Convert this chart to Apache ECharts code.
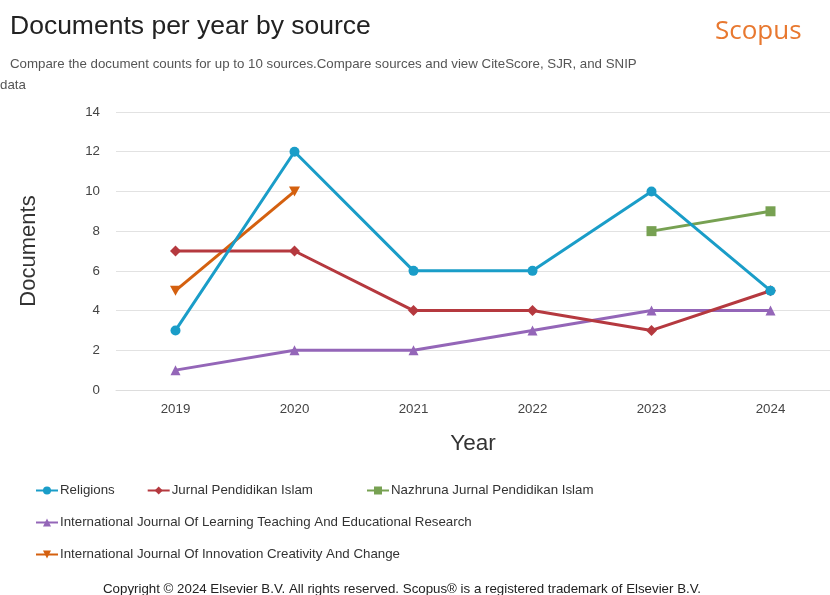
<!DOCTYPE html>
<html><head><meta charset="utf-8">
<script src="https://cdn.jsdelivr.net/npm/echarts@6/dist/echarts.min.js"></script>
<style>html,body{margin:0;padding:0;background:#fff}#c{width:830px;height:595px}</style>
</head><body><div id="c"></div>
<script>
const years = ['2019','2020','2021','2022','2023','2024'];
const seriesNames = ['Religions','Jurnal Pendidikan Islam','Nazhruna Jurnal Pendidikan Islam','International Journal Of Learning Teaching And Educational Research','International Journal Of Innovation Creativity And Change'];
const religions = [3, 12, 6, 6, 10, 5];
const jurnalPendidikanIslam = [7, 7, 4, 4, 3, 5];
const nazhruna = [null, null, null, null, 8, 9];
const ijlter = [1, 2, 2, 3, 4, 4];
const ijicc = [5, 10, null, null, null, null];
const yTicks = {min: 0, max: 14, interval: 2};

const colors = ['#1a9dc8', '#b5393f', '#77a152', '#9466b8', '#d4600f'];
const symbols = ['circle', 'diamond', 'rect', 'triangle', 'path://M0,0 L10,0 L5,10 Z'];
const data = [religions, jurnalPendidikanIslam, nazhruna, ijlter, ijicc];

const chart = echarts.init(document.getElementById('c'));
const font = 'Liberation Sans, Arial, sans-serif';
const fs = 13.3;
const legendBase = {
  orient: 'horizontal', itemWidth: 22, itemHeight: 10, itemGap: 40,
  textStyle: {fontSize: fs, color: '#333', fontFamily: font, padding: [0,0,0,-3]}
};
chart.setOption({
  animation: false,
  color: colors,
  title: [
    {text: 'Documents per year by source', left: 5, top: 8, textStyle: {fontSize: 26.5, fontWeight: 'normal', color: '#222', fontFamily: font}},
    {text: 'Scopus', left: 710, top: 14, textStyle: {fontSize: 26, fontWeight: 'normal', color: '#e8782f', fontFamily: 'Open Sans, sans-serif'}},
    {text: 'Compare the document counts for up to 10 sources.Compare sources and view CiteScore, SJR, and SNIP', left: 5, top: 53, textStyle: {fontSize: fs, fontWeight: 'normal', color: '#555', fontFamily: font}},
    {text: 'data', left: -5, top: 74, textStyle: {fontSize: fs, fontWeight: 'normal', color: '#555', fontFamily: font}},
    {text: 'Copyright © 2024 Elsevier B.V. All rights reserved. Scopus® is a registered trademark of Elsevier B.V.', left: 98, top: 578, textStyle: {fontSize: fs, fontWeight: 'normal', color: '#222', fontFamily: font}}
  ],
  legend: [
    Object.assign({}, legendBase, {data: [seriesNames[0], seriesNames[1]], left: 30, top: 479, itemGap: 32}),
    Object.assign({}, legendBase, {data: [seriesNames[2]], left: 361, top: 479}),
    Object.assign({}, legendBase, {data: [seriesNames[3]], left: 30, top: 511}),
    Object.assign({}, legendBase, {data: [seriesNames[4]], left: 30, top: 543})
  ],
  grid: {left: 116, right: 0, top: 112, bottom: 205, containLabel: false},
  xAxis: {
    type: 'category', data: years, boundaryGap: true,
    name: 'Year', nameLocation: 'middle', nameGap: 42,
    nameTextStyle: {fontSize: 22.5, color: '#333', fontFamily: font},
    axisLine: {show: true, lineStyle: {color: '#ddd'}}, axisTick: {show: false},
    axisLabel: {fontSize: fs, color: '#444', margin: 13, fontFamily: font},
    splitLine: {show: false}
  },
  yAxis: {
    type: 'value', min: yTicks.min, max: yTicks.max, interval: yTicks.interval,
    name: 'Documents', nameLocation: 'middle', nameGap: 76, nameRotate: 90,
    nameTextStyle: {fontSize: 22, color: '#333', fontFamily: font},
    axisLine: {show: false}, axisTick: {show: false},
    axisLabel: {fontSize: fs, color: '#444', margin: 16, fontFamily: font},
    splitLine: {lineStyle: {color: '#e2e2e2'}}
  },
  series: seriesNames.map((n, i) => ({
    name: n, type: 'line', data: data[i], symbol: symbols[i],
    symbolSize: i === 4 ? [11, 10] : (i === 1 ? 11 : 10),
    showAllSymbol: true, connectNulls: false,
    lineStyle: {width: 3, color: colors[i]}, itemStyle: {color: colors[i]},
    z: 10 - i
  }))
});
</script></body></html>
